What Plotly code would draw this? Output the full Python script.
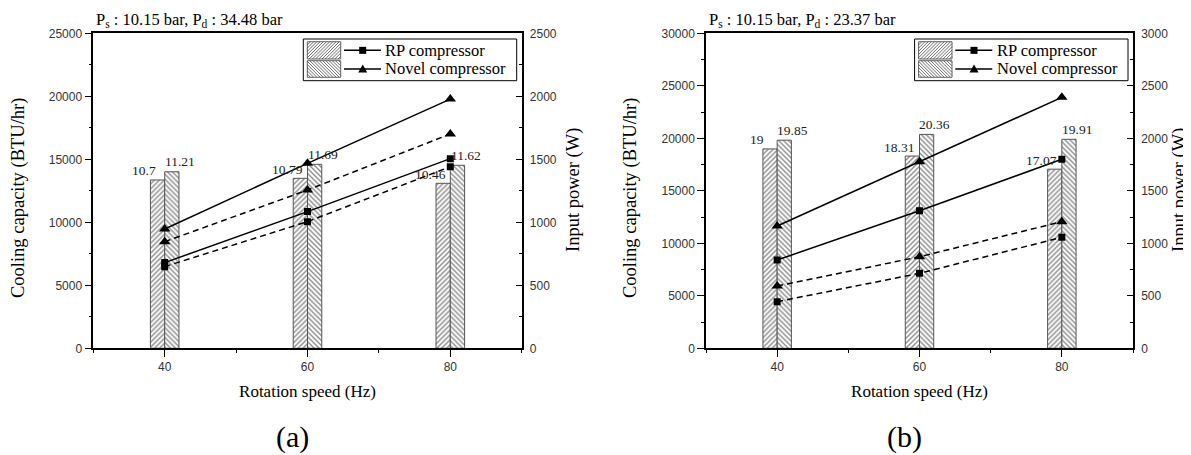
import plotly.graph_objects as go

# ---------------- data ----------------
speed = [40, 60, 80]

# panel (a)  Ps 10.15 bar, Pd 34.48 bar
cap_rp_a = [13360, 13490, 13095]
cap_novel_a = [14010, 14600, 14525]
lab_rp_a = ["10.7", "10.79", "10.46"]
lab_novel_a = ["11.21", "11.69", "11.62"]
pw_rp_solid_a = [680, 1085, 1505]
pw_rp_dash_a = [648, 1005, 1441]
pw_novel_solid_a = [947, 1468, 1978]
pw_novel_dash_a = [846, 1256, 1701]

# panel (b)  Ps 10.15 bar, Pd 23.37 bar
cap_rp_b = [18990, 18310, 17060]
cap_novel_b = [19820, 20370, 19905]
lab_rp_b = ["19", "18.31", "17.07"]
lab_novel_b = ["19.85", "20.36", "19.91"]
pw_rp_solid_b = [841, 1310, 1800]
pw_rp_dash_b = [444, 714, 1057]
pw_novel_solid_b = [1165, 1777, 2390]
pw_novel_dash_b = [593, 872, 1206]

titles = ["P<sub>s</sub> : 10.15 bar, P<sub>d</sub> : 34.48 bar",
          "P<sub>s</sub> : 10.15 bar, P<sub>d</sub> : 23.37 bar"]
panel_tags = ["(a)", "(b)"]
series_names = ["RP compressor", "Novel compressor"]
x_title = "Rotation speed (Hz)"
y_title = "Cooling capacity (BTU/hr)"
y2_title = "Input power (W)"

# ---------------- layout constants ----------------
W, H = 1191, 455
PAGE_OFF = 8  # default body margin of the html page
SERIF = "Liberation Serif, Times New Roman, serif"
SANS = "Liberation Sans, Arial, sans-serif"
BAR_W = 2


def px(x):
    return (x - PAGE_OFF) / W


def py(y):
    return 1 - (y - PAGE_OFF) / H


panels = [
    dict(x0=93.3, x1=521.7, cap_max=25000, cap_dt=5000, pw_max=2500,
         cap_rp=cap_rp_a, cap_nv=cap_novel_a, lab_rp=lab_rp_a, lab_nv=lab_novel_a,
         rp_s=pw_rp_solid_a, rp_d=pw_rp_dash_a, nv_s=pw_novel_solid_a, nv_d=pw_novel_dash_a,
         leg_x1=516.7, ytitle_x=18, y2title_x=573),
    dict(x0=706.0, x1=1133.0, cap_max=30000, cap_dt=5000, pw_max=3000,
         cap_rp=cap_rp_b, cap_nv=cap_novel_b, lab_rp=lab_rp_b, lab_nv=lab_novel_b,
         rp_s=pw_rp_solid_b, rp_d=pw_rp_dash_b, nv_s=pw_novel_solid_b, nv_d=pw_novel_dash_b,
         leg_x1=1128.0, ytitle_x=630, y2title_x=1179),
]
Y_TOP, Y_BOT = 33.3, 348.3

fig = go.Figure()
layout = dict(width=W, height=H, margin=dict(l=0, r=0, t=0, b=0, pad=0), autosize=False,
              paper_bgcolor="white", plot_bgcolor="white", showlegend=False,
              barmode="overlay", font=dict(family=SERIF, color="black"))
annotations = []
shapes = []

for i, p in enumerate(panels):
    xa = "x" if i == 0 else "x2"
    ya = "y" if i == 0 else "y3"
    ya2 = "y2" if i == 0 else "y4"
    xkey = "xaxis" if i == 0 else "xaxis2"
    ykey = "yaxis" if i == 0 else "yaxis3"
    y2key = "yaxis2" if i == 0 else "yaxis4"

    # bars
    fig.add_trace(go.Bar(x=speed, y=p["cap_rp"], width=BAR_W, offset=-BAR_W,
                         xaxis=xa, yaxis=ya, name=series_names[0],
                         marker=dict(color="white", line=dict(color="#555", width=1),
                                     pattern=dict(shape="/", fgcolor="#111", bgcolor="white",
                                                  size=3.5, solidity=0.4))))
    fig.add_trace(go.Bar(x=speed, y=p["cap_nv"], width=BAR_W, offset=0,
                         xaxis=xa, yaxis=ya, name=series_names[1],
                         marker=dict(color="white", line=dict(color="#555", width=1),
                                     pattern=dict(shape="\\", fgcolor="#111", bgcolor="white",
                                                  size=3.5, solidity=0.4))))
    # lines
    for vals, sym, dash, ms in [(p["nv_s"], "triangle-up", "solid", 10),
                                (p["nv_d"], "triangle-up", "dash", 10),
                                (p["rp_s"], "square", "solid", 7),
                                (p["rp_d"], "square", "dash", 7)]:
        fig.add_trace(go.Scatter(x=speed, y=vals, xaxis=xa, yaxis=ya2, mode="lines+markers",
                                 line=dict(color="black", width=1.5,
                                           dash="6px,4px" if dash == "dash" else "solid"),
                                 marker=dict(symbol=sym, size=ms, color="black")))

    dom_x = [px(p["x0"]), px(p["x1"])]
    dom_y = [py(Y_BOT), py(Y_TOP)]
    tickfont = dict(family=SANS, size=12, color="#333")
    layout[xkey] = dict(domain=dom_x, range=[30, 90], anchor=ya, tick0=40, dtick=20,
                        automargin=False,
                        ticks="outside", ticklen=7, tickwidth=1.3, tickcolor="black",
                        minor=dict(tick0=30, dtick=10, ticks="outside", ticklen=3,
                                   tickwidth=1.3, tickcolor="black", showgrid=False),
                        showline=True, linecolor="black", linewidth=1.5, mirror=True,
                        showgrid=False, zeroline=False, tickfont=tickfont,
                        title=dict(text=x_title, font=dict(family=SERIF, size=17), standoff=12))
    layout[ykey] = dict(domain=dom_y, range=[0, p["cap_max"]], anchor=xa, dtick=p["cap_dt"],
                        tickformat="d", automargin=False,
                        ticks="outside", ticklen=7, tickwidth=1.3, tickcolor="black",
                        minor=dict(dtick=p["cap_dt"] / 2, ticks="outside", ticklen=3,
                                   tickwidth=1.3, tickcolor="black", showgrid=False),
                        showline=True, linecolor="black", linewidth=1.5,
                        showgrid=False, zeroline=False, tickfont=tickfont)
    layout[y2key] = dict(overlaying=ya, side="right", anchor=xa, range=[0, p["pw_max"]],
                         dtick=500, tickformat="d", automargin=False,
                         ticks="inside", ticklen=6, tickwidth=1.3,
                         tickcolor="black",
                         minor=dict(dtick=250, ticks="inside", ticklen=3, tickwidth=1.3,
                                    tickcolor="black", showgrid=False),
                         showline=True, linecolor="black", linewidth=1.5,
                         showgrid=False, zeroline=False, tickfont=tickfont, ticklabelstandoff=4)

    # axis titles for the two y axes
    annotations.append(dict(x=px(p["ytitle_x"]), y=py(198), xref="paper", yref="paper",
                            text=y_title, textangle=-90, showarrow=False,
                            xanchor="center", yanchor="middle",
                            font=dict(family=SERIF, size=18.5)))
    annotations.append(dict(x=px(p["y2title_x"]), y=py(190), xref="paper", yref="paper",
                            text=y2_title, textangle=-90, showarrow=False,
                            xanchor="center", yanchor="middle",
                            font=dict(family=SERIF, size=18.5)))

    # bar value labels
    for s, v, t in zip(speed, p["cap_rp"], p["lab_rp"]):
        annotations.append(dict(x=s - BAR_W, y=v, xref=xa, yref=ya, text=t, showarrow=False,
                                xanchor="center", yanchor="middle", xshift=-6, yshift=9,
                                font=dict(family=SERIF, size=13.5, color="#222")))
    for s, v, t in zip(speed, p["cap_nv"], p["lab_nv"]):
        annotations.append(dict(x=s + BAR_W, y=v, xref=xa, yref=ya, text=t, showarrow=False,
                                xanchor="center", yanchor="middle", xshift=1, yshift=10,
                                font=dict(family=SERIF, size=13.5, color="#222")))

    # panel title (pressures) and tag
    annotations.append(dict(x=px(p["x0"] + 1), y=py(32), xref="paper", yref="paper",
                            text=titles[i], showarrow=False, xanchor="left", yanchor="bottom",
                            font=dict(family=SERIF, size=16.5)))
    annotations.append(dict(x=px((p["x0"] + p["x1"]) / 2 - 15), y=py(437), xref="paper",
                            yref="paper", text=panel_tags[i], showarrow=False,
                            xanchor="center", yanchor="middle",
                            font=dict(family=SERIF, size=30)))

    # ---------- legend box (drawn as decoration) ----------
    lx1 = p["leg_x1"]
    lx0 = lx1 - 213.4
    ly0, ly1 = 39.0, 80.7
    shapes.append(dict(type="rect", xref="paper", yref="paper", x0=px(lx0), x1=px(lx1),
                       y0=py(ly1), y1=py(ly0), line=dict(color="black", width=1),
                       fillcolor="white", layer="above"))
    rows = [(41.7, 59.0, "/"), (60.7, 77.3, "\\")]
    for r, (ry0, ry1, hatch) in enumerate(rows):
        sx0, sx1 = lx0 + 4, lx0 + 37.4
        shapes.append(dict(type="rect", xref="paper", yref="paper", x0=px(sx0), x1=px(sx1),
                           y0=py(ry1), y1=py(ry0), line=dict(color="#666", width=1),
                           fillcolor="white", layer="above"))
        # hatch lines
        step = 3.2
        if hatch == "/":
            c = sx0 + ry0
            while c < sx1 + ry1:
                xa_ = max(sx0, c - ry1)
                xb_ = min(sx1, c - ry0)
                if xb_ > xa_:
                    shapes.append(dict(type="line", xref="paper", yref="paper",
                                       x0=px(xa_), y0=py(c - xa_), x1=px(xb_), y1=py(c - xb_),
                                       line=dict(color="#444", width=0.8), layer="above"))
                c += step
        else:
            c = sx0 - ry1
            while c < sx1 - ry0:
                xa_ = max(sx0, c + ry0)
                xb_ = min(sx1, c + ry1)
                if xb_ > xa_:
                    shapes.append(dict(type="line", xref="paper", yref="paper",
                                       x0=px(xa_), y0=py(xa_ - c), x1=px(xb_), y1=py(xb_ - c),
                                       line=dict(color="#444", width=0.8), layer="above"))
                c += step
        cy = (ry0 + ry1) / 2
        shapes.append(dict(type="line", xref="paper", yref="paper", x0=px(lx0 + 40.7),
                           x1=px(lx0 + 77.7), y0=py(cy), y1=py(cy),
                           line=dict(color="black", width=1.5), layer="above"))
        mx = lx0 + 59.4
        if r == 0:
            shapes.append(dict(type="rect", xref="paper", yref="paper", x0=px(mx - 3.5),
                               x1=px(mx + 3.5), y0=py(cy + 3.5), y1=py(cy - 3.5),
                               line=dict(color="black", width=0), fillcolor="black",
                               layer="above"))
        else:
            path = "M {} {} L {} {} L {} {} Z".format(px(mx - 4.5), py(cy + 3.5),
                                                      px(mx + 4.5), py(cy + 3.5),
                                                      px(mx), py(cy - 4.5))
            shapes.append(dict(type="path", xref="paper", yref="paper", path=path,
                               line=dict(color="black", width=0), fillcolor="black",
                               layer="above"))
        annotations.append(dict(x=px(lx0 + 80), y=py(cy), xref="paper", yref="paper",
                                text=series_names[r], showarrow=False, xanchor="left",
                                yanchor="middle", font=dict(family=SERIF, size=16.5)))

layout["annotations"] = annotations
layout["shapes"] = shapes
fig.update_layout(**layout)
fig.write_html("out.html")
